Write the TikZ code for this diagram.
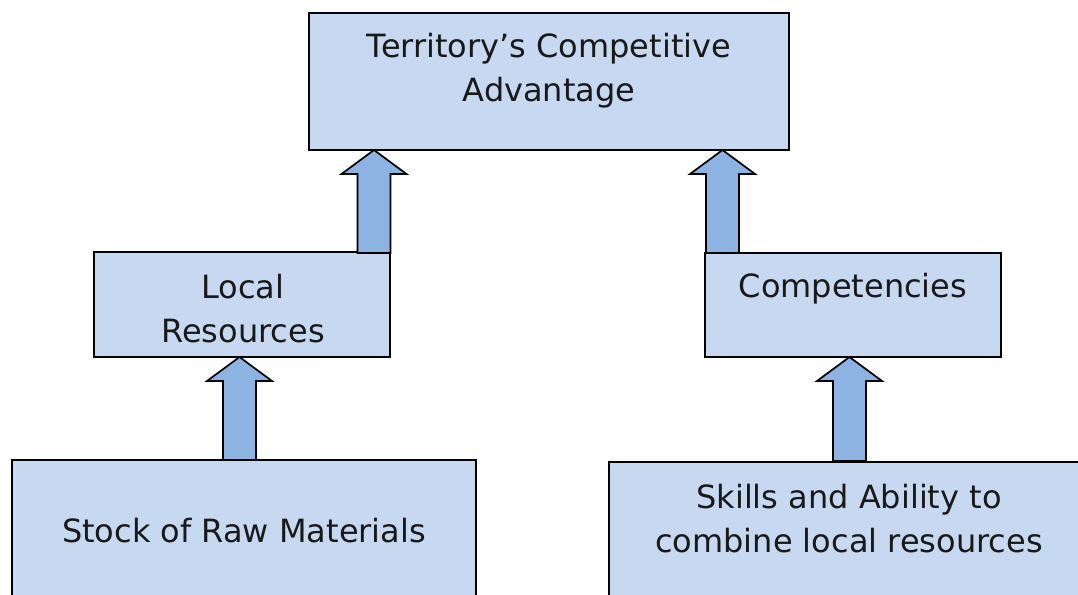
\documentclass[tikz,border=0pt]{standalone}
\usepackage{fontspec}
\setmainfont{DejaVu Sans}
\usetikzlibrary{calc}
\definecolor{boxfill}{HTML}{C6D9F1}
\definecolor{arrfill}{HTML}{8DB3E2}
\tikzset{
  box/.style={draw=black, line width=1.6pt, fill=boxfill, inner sep=0pt},
  lbl/.style={font=\fontsize{32}{44}\selectfont, align=center, inner sep=0pt, text=black!90},
  blockarr/.style={draw=black, line width=1.7pt, fill=arrfill, line join=miter}
}
\newcommand\blockarrow[2]{%
  \draw[blockarr] let \p1=(#1), \p2=(#2) in
    (\x1-16.5,\y1) -- (\x1-16.5,\y2-24) -- (\x1-32.5,\y2-24) -- (\x1,\y2)
    -- (\x1+32.5,\y2-24) -- (\x1+16.5,\y2-24) -- (\x1+16.5,\y1) -- cycle;}
\begin{document}
\begin{tikzpicture}[x=1pt,y=-1pt]
\clip (0,0) rectangle (1078,594);
\fill[white] (0,0) rectangle (1078,594);
% boxes
\node[box, minimum width=480pt, minimum height=137pt] (top) at (549,81.5) {};
\node[box, minimum width=296pt, minimum height=105pt] (lres) at (242,304.5) {};
\node[box, minimum width=296pt, minimum height=104pt] (comp) at (853,305) {};
\node[box, minimum width=464pt, minimum height=170pt] (stock) at (244,545) {};
\node[box, minimum width=482pt, minimum height=170pt] (skills) at (850,547) {};
% texts
\node[lbl] (ttop) at (549,70.5) {Territory’s Competitive\\Advantage};
\node[lbl] (tlres) at (243,309) {Local\\Resources};
\node[lbl] (tcomp) at (853,288.5) {Competencies};
\node[lbl] (tstock) at (244,531) {Stock of Raw Materials};
\node[lbl] (tskills) at (849,518.5) {Skills and Ability to\\combine local resources};
% connector end points
\coordinate (a1s) at (374,253); \coordinate (a1e) at (374,150);
\coordinate (a2s) at (722.5,253); \coordinate (a2e) at (722.5,150);
\coordinate (a3s) at (239.5,460); \coordinate (a3e) at (239.5,357);
\coordinate (a4s) at (849.5,461); \coordinate (a4e) at (849.5,357);
\blockarrow{a1s}{a1e}
\blockarrow{a2s}{a2e}
\blockarrow{a3s}{a3e}
\blockarrow{a4s}{a4e}
\end{tikzpicture}
\end{document}
